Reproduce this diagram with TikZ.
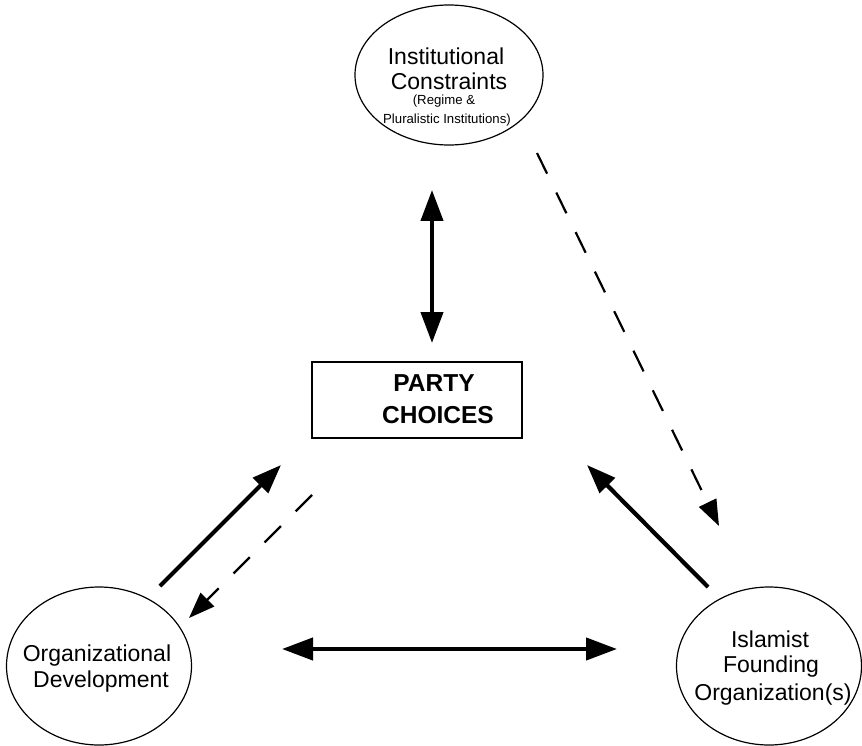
\documentclass[tikz,border=0pt]{standalone}
\usepackage{fontspec}
\setmainfont{Liberation Sans}
\usetikzlibrary{shapes.geometric,arrows.meta}
\tikzset{
  oval/.style={draw, line width=1.2pt, ellipse, inner sep=0pt},
  lbl/.style={anchor=base, inner sep=0pt, font=\fontsize{23}{26}\selectfont},
  small/.style={anchor=base, inner sep=0pt, font=\fontsize{13.2}{15}\selectfont},
  boldlbl/.style={anchor=base, inner sep=0pt, font=\fontsize{24.5}{27}\selectfont\bfseries},
  solidarrow/.style={line width=4.2pt},
  dasharrow/.style={line width=2.2pt, dash pattern=on 23pt off 21pt}
}
\begin{document}
\begin{tikzpicture}[x=1pt,y=-1pt]
\useasboundingbox (0,0) rectangle (862,746);
% nodes
\node[oval, minimum width=188pt, minimum height=140pt] (ic) at (449,75) {};
\node[lbl] (ic1) at (446,65) {Institutional};
\node[lbl] (ic2) at (449,90) {Constraints};
\node[small] (ic3) at (444,105) {(Regime \&};
\node[small] (ic4) at (447,124) {Pluralistic Institutions)};

\node[draw, line width=1.2pt, minimum width=210pt, minimum height=76pt, inner sep=0pt] (pc) at (417,400) {};
\node[boldlbl] (pc1) at (434,391) {PARTY};
\node[boldlbl] (pc2) at (438,423) {CHOICES};

\node[oval, minimum width=185pt, minimum height=158pt] (od) at (99,666) {};
\node[lbl] (od1) at (97,661) {Organizational};
\node[lbl] (od2) at (101,687) {Development};

\node[oval, minimum width=185pt, minimum height=158pt] (if) at (769,666) {};
\node[lbl] (if1) at (770,647) {Islamist};
\node[lbl] (if2) at (771,672) {Founding};
\node[lbl] (if3) at (773,700) {Organization(s)};

% connector end points
\coordinate (v1) at (432,190);
\coordinate (v2) at (432,343);
\coordinate (h1) at (282,649);
\coordinate (h2) at (617,649);
\coordinate (d1) at (537,153);
\coordinate (d2) at (719,526);
\coordinate (s1) at (160,586);
\coordinate (s2) at (281,465);
\coordinate (e1) at (312,495);
\coordinate (e2) at (189,618);
\coordinate (r1) at (708,587);
\coordinate (r2) at (587,465);

\draw[solidarrow, {Triangle[length=31pt,width=22pt]}-{Triangle[length=31pt,width=22pt]}] (v1) -- (v2);
\draw[solidarrow, {Triangle[length=31pt,width=22pt]}-{Triangle[length=31pt,width=22pt]}] (h1) -- (h2);
\draw[solidarrow, -{Triangle[length=29pt,width=21pt]}] (s1) -- (s2);
\draw[solidarrow, -{Triangle[length=29pt,width=21pt]}] (r1) -- (r2);
\draw[dasharrow, -{Triangle[length=26pt,width=19pt]}] (d1) -- (d2);
\draw[dasharrow, -{Triangle[length=26pt,width=19pt]}] (e1) -- (e2);
\end{tikzpicture}
\end{document}
